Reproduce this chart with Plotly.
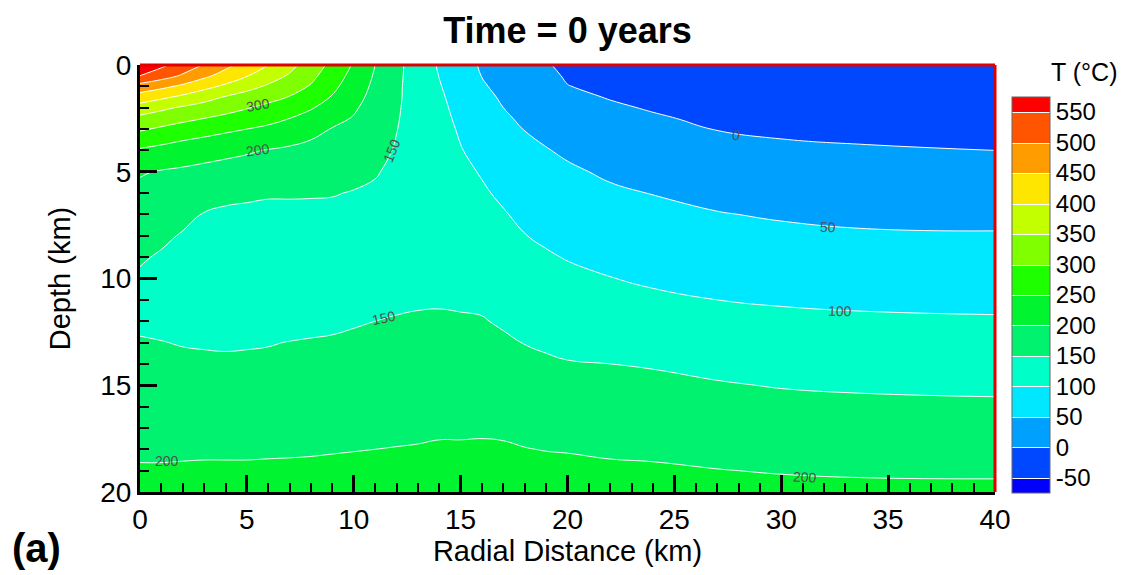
import numpy as np
import plotly.graph_objects as go

# ---------------- data ----------------
x_km = [0, 1, 2, 3, 4, 5, 6, 7, 8, 9, 10, 11, 12, 13, 14, 15, 16, 17, 18, 19, 20, 22, 24, 27, 30, 34, 40]
depth_km = [0, 0.5, 1, 1.5, 2, 2.5, 3, 4, 5, 6, 7, 8, 9, 10, 11, 12, 13, 14, 15, 16, 17, 18, 19, 20]

# temperature (°C) down each column, one list per radial distance
T_x00 = [590, 550, 481, 427, 380, 337, 306, 244, 204, 189, 177, 165, 154, 145, 138, 143, 153, 161, 170, 178, 187, 195, 203, 212]
T_x01 = [560, 522, 462, 410, 360, 325, 293, 235, 197, 184, 170, 157, 146, 139, 135, 140, 151, 160, 168, 177, 186, 195, 203, 212]
T_x02 = [528, 494, 440, 390, 344, 312, 280, 225, 193, 176, 160, 147, 139, 134, 132, 137, 148, 158, 167, 176, 186, 195, 204, 213]
T_x03 = [497, 461, 415, 368, 331, 300, 269, 218, 188, 168, 148, 138, 132, 129, 129, 134, 146, 158, 167, 176, 186, 195, 205, 214]
T_x04 = [463, 431, 391, 347, 318, 288, 259, 211, 184, 162, 142, 134, 129, 127, 127, 132, 145, 157, 167, 176, 186, 195, 205, 214]
T_x05 = [431, 403, 365, 332, 303, 276, 250, 205, 180, 159, 139, 133, 128, 126, 126, 131, 146, 158, 167, 177, 186, 195, 205, 214]
T_x06 = [400, 372, 344, 315, 288, 264, 241, 198, 177, 154, 140, 134, 130, 127, 127, 132, 148, 158, 168, 177, 187, 196, 205, 214]
T_x07 = [364, 345, 321, 298, 274, 250, 227, 193, 174, 154, 140, 135, 131, 129, 129, 135, 151, 160, 169, 178, 187, 196, 206, 215]
T_x08 = [327, 312, 296, 275, 254, 233, 212, 188, 171, 153, 141, 137, 134, 132, 132, 139, 153, 162, 171, 179, 188, 197, 206, 215]
T_x09 = [287, 274, 261, 247, 230, 213, 198, 183, 167, 152, 141, 139, 136, 134, 135, 143, 154, 163, 172, 181, 189, 198, 207, 216]
T_x10 = [245, 235, 225, 216, 206, 197, 190, 176, 161, 148, 143, 141, 138, 137, 139, 147, 156, 165, 173, 182, 190, 199, 208, 217]
T_x11 = [200, 195, 190, 185, 180, 175, 171, 161, 152, 146, 143, 141, 140, 140, 142, 150, 158, 166, 175, 183, 192, 200, 208, 217]
T_x12 = [162, 160, 158, 157, 155, 153, 151, 147, 144, 142, 141, 140, 140, 141, 145, 152, 160, 168, 176, 184, 193, 201, 209, 218]
T_x13 = [127, 128, 129, 130, 131, 132, 133, 135, 137, 138, 139, 140, 141, 143, 147, 153, 161, 169, 177, 185, 194, 202, 210, 219]
T_x14 = [95, 99, 103, 107, 110, 113, 116, 121, 126, 130, 134, 137, 140, 143, 147, 154, 162, 170, 178, 186, 195, 204, 212, 221]
T_x15 = [68, 72, 77, 82, 87, 91, 95, 102, 109, 116, 122, 128, 134, 139, 146, 153, 161, 169, 178, 187, 195, 204, 213, 221]
T_x16 = [45, 49, 54, 60, 65, 70, 75, 86, 97, 105, 113, 121, 129, 136, 144, 152, 160, 169, 178, 187, 196, 204, 213, 222]
T_x17 = [31, 36, 40, 45, 50, 55, 60, 71, 82, 93, 103, 112, 121, 130, 138, 146, 155, 165, 175, 185, 194, 204, 213, 222]
T_x18 = [17, 22, 28, 33, 39, 44, 49, 60, 70, 80, 91, 101, 111, 121, 131, 140, 149, 159, 170, 181, 191, 201, 211, 220]
T_x19 = [3, 9, 15, 21, 27, 33, 40, 52, 62, 73, 83, 94, 104, 115, 125, 135, 145, 155, 166, 177, 188, 199, 210, 220]
T_x20 = [-8, -4, 1, 8, 15, 22, 29, 44, 56, 66, 77, 88, 98, 109, 120, 131, 141, 152, 164, 175, 186, 198, 209, 220]
T_x22 = [-22, -15, -9, -2, 5, 11, 18, 31, 44, 56, 67, 78, 89, 101, 113, 125, 138, 150, 161, 172, 184, 195, 206, 217]
T_x24 = [-30, -23, -16, -9, -3, 4, 10, 23, 36, 49, 60, 72, 83, 94, 107, 120, 133, 147, 159, 170, 182, 193, 205, 216]
T_x27 = [-37, -31, -25, -19, -13, -7, -1, 13, 26, 39, 52, 64, 76, 88, 100, 113, 127, 140, 153, 165, 177, 189, 201, 213]
T_x30 = [-40, -34, -29, -23, -17, -11, -6, 7, 20, 33, 46, 59, 71, 84, 96, 109, 122, 135, 148, 161, 173, 185, 198, 210]
T_x34 = [-42, -36, -31, -25, -20, -14, -8, 3, 17, 29, 42, 54, 67, 80, 93, 106, 119, 132, 145, 158, 170, 183, 196, 208]
T_x40 = [-44, -38, -33, -27, -22, -16, -11, 0, 13, 26, 40, 53, 65, 78, 91, 104, 117, 130, 143, 156, 169, 182, 195, 208]

levels = [-50, 0, 50, 100, 150, 200, 250, 300, 350, 400, 450, 500, 550]
band_colors = ["#0000FF", "#0048FF", "#00A0FF", "#00E8FF", "#00FFC8", "#00F26E",
               "#00F530", "#1EFF00", "#80FF00", "#C4FF00", "#FFE600", "#FF9C00",
               "#FF5400", "#FF0000"]

label_text = ["300", "200", "150", "150", "0", "50", "100", "200", "200"]
label_x = [5.5, 5.5, 11.8, 11.4, 27.9, 32.2, 32.75, 1.26, 31.1]
label_d = [1.85, 4.0, 4.0, 11.85, 3.3, 7.6, 11.5, 18.55, 19.3]
label_angle = [-10, -8, -68, -12, 4, 2, 1, 0, 3]

# ---------------- figure ----------------
columns = [T_x00, T_x01, T_x02, T_x03, T_x04, T_x05, T_x06, T_x07, T_x08, T_x09,
           T_x10, T_x11, T_x12, T_x13, T_x14, T_x15, T_x16, T_x17, T_x18, T_x19,
           T_x20, T_x22, T_x24, T_x27, T_x30, T_x34, T_x40]
z = np.array(columns, dtype=float).T  # rows = depth, cols = radial distance

n = len(band_colors)
colorscale = [[i / (n - 1), c] for i, c in enumerate(band_colors)]

FONT = "Liberation Sans, Arial, Helvetica, sans-serif"

fig = go.Figure()
fig.add_trace(go.Contour(
    x=x_km, y=depth_km, z=z,
    colorscale=colorscale,
    autocontour=False,
    contours=dict(start=levels[0], end=levels[-1], size=levels[1] - levels[0],
                  coloring="fill", showlines=True),
    line=dict(color="white", width=1, smoothing=1.3),
    colorbar=dict(
        x=1.02, xanchor="left", xpad=0, y=-0.002, yanchor="bottom", ypad=0,
        len=0.927, lenmode="fraction", thickness=38, thicknessmode="pixels",
        tickvals=levels, ticktext=[str(v) for v in levels],
        tickfont=dict(family=FONT, size=24, color="black"),
        ticks="", outlinewidth=1, outlinecolor="#666666",
    ),
    hoverinfo="skip",
))

for t, xx, dd, ang in zip(label_text, label_x, label_d, label_angle):
    fig.add_annotation(x=xx, y=dd, xref="x", yref="y", text=t, showarrow=False,
                       textangle=ang, font=dict(family=FONT, size=14, color="#505050"))

fig.add_annotation(x=1.104, y=0.984, xref="paper", yref="paper", text="T (°C)",
                   showarrow=False, xanchor="center", yanchor="middle",
                   font=dict(family=FONT, size=25, color="black"))
fig.add_annotation(x=-0.1216, y=-0.131, xref="paper", yref="paper", text="<b>(a)</b>",
                   showarrow=False, xanchor="center", yanchor="middle",
                   font=dict(family=FONT, size=40, color="black"))

# red top and right frame
fig.add_shape(type="line", xref="paper", yref="paper", x0=0, x1=1, y0=1, y1=1,
              line=dict(color="#E00000", width=3))
fig.add_shape(type="line", xref="paper", yref="paper", x0=1, x1=1, y0=0, y1=1,
              line=dict(color="#E00000", width=3))

axis_common = dict(
    showgrid=False, zeroline=False, showline=True, linecolor="black", linewidth=3,
    ticks="inside", ticklen=17, tickwidth=2.5, tickcolor="black",
    tickfont=dict(family=FONT, size=28, color="black"),
    minor=dict(dtick=1, ticks="inside", ticklen=9, tickwidth=1.5, tickcolor="black"),
    tick0=0, dtick=5,
)

fig.update_layout(
    width=1123, height=575,
    margin=dict(l=140, r=128, t=65, b=83),
    paper_bgcolor="white", plot_bgcolor="white",
    font=dict(family=FONT, color="black"),
    title=dict(text="<b>Time = 0 years</b>", x=0.5, xref="paper", xanchor="center",
               y=1 - 30 / 575, yref="container", yanchor="middle",
               font=dict(family=FONT, size=36, color="black")),
    xaxis=dict(range=[0, 40], title=dict(text="Radial Distance (km)", standoff=8,
               font=dict(family=FONT, size=29)), **axis_common),
    yaxis=dict(range=[20, 0], title=dict(text="Depth (km)", standoff=22,
               font=dict(family=FONT, size=29)), **axis_common),
    showlegend=False,
)

fig.write_html("out.html")
